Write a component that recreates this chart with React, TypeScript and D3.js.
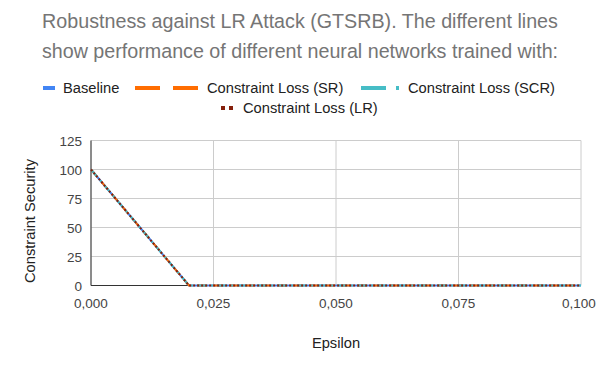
import React from "react";
import * as d3 from "d3";

const epsilon = [0, 0.01, 0.02, 0.03, 0.04, 0.05, 0.06, 0.07, 0.08, 0.09, 0.1];
const baseline = [100, 50, 0, 0, 0, 0, 0, 0, 0, 0, 0];
const lossSR = [100, 50, 0, 0, 0, 0, 0, 0, 0, 0, 0];
const lossSCR = [100, 50, 0, 0, 0, 0, 0, 0, 0, 0, 0];
const lossLR = [100, 50, 0, 0, 0, 0, 0, 0, 0, 0, 0];
const xTicks = [0, 0.025, 0.05, 0.075, 0.1];
const yTicks = [0, 25, 50, 75, 100, 125];
const seriesNames = ["Baseline", "Constraint Loss (SR)", "Constraint Loss (SCR)", "Constraint Loss (LR)"];

const W = 600, H = 371;
const m = { left: 91, right: 581, top: 140.5, bottom: 285.5 };
const FONT = "'Liberation Sans', Arial, sans-serif";

const styles = [
  { color: "#4285F4", dash: "" },
  { color: "#FF6D01", dash: "10,6" },
  { color: "#46BDC6", dash: "10,4,2,4" },
  { color: "#85200C", dash: "2,2" },
];

export default function App() {
  const x = d3.scaleLinear().domain([0, 0.1]).range([m.left, m.right]);
  const y = d3.scaleLinear().domain([0, 125]).range([m.bottom, m.top]);
  const line = d3
    .line<[number, number]>()
    .x((d) => x(d[0]))
    .y((d) => y(d[1]));
  const all = [baseline, lossSR, lossSCR, lossLR];
  const fmt = (v: number) => v.toFixed(3).replace(".", ",");

  return (
    <svg width={W} height={H} style={{ position: "absolute", left: 0, top: 0, background: "#fff", fontFamily: FONT }}>
      <rect width={W} height={H} fill="#fff" />
      <text x={300} y={28} textAnchor="middle" fontSize={19.7} fill="#757575">
        Robustness against LR Attack (GTSRB). The different lines
      </text>
      <text x={300} y={58} textAnchor="middle" fontSize={19.7} fill="#757575">
        show performance of different neural networks trained with:
      </text>

      {/* Legend */}
      <g fontSize={14.7} fill="#222">
        <line x1={43} x2={55} y1={88} y2={88} stroke={styles[0].color} strokeWidth={4} />
        <text x={63} y={93}>{seriesNames[0]}</text>
        <line x1={135} x2={160} y1={88} y2={88} stroke={styles[1].color} strokeWidth={4} />
        <line x1={173} x2={198} y1={88} y2={88} stroke={styles[1].color} strokeWidth={4} />
        <text x={207} y={93}>{seriesNames[1]}</text>
        <line x1={361} x2={386} y1={88} y2={88} stroke={styles[2].color} strokeWidth={4} />
        <line x1={396} x2={399} y1={88} y2={88} stroke={styles[2].color} strokeWidth={4} />
        <text x={408} y={93}>{seriesNames[2]}</text>
        <line x1={221} x2={225} y1={108} y2={108} stroke={styles[3].color} strokeWidth={4} />
        <line x1={229} x2={233} y1={108} y2={108} stroke={styles[3].color} strokeWidth={4} />
        <text x={243} y={113}>{seriesNames[3]}</text>
      </g>

      {/* Gridlines */}
      {yTicks.map((t) => (
        <line key={"gy" + t} x1={m.left} x2={m.right} y1={y(t)} y2={y(t)} stroke="#cccccc" strokeWidth={1} />
      ))}
      {xTicks.map((t) => (
        <line key={"gx" + t} x1={x(t)} x2={x(t)} y1={m.top} y2={m.bottom} stroke="#cccccc" strokeWidth={1} />
      ))}

      {/* Axes */}
      <line x1={m.left} x2={m.left} y1={m.top} y2={m.bottom} stroke="#333" strokeWidth={1} />
      <line x1={m.left} x2={m.right} y1={m.bottom} y2={m.bottom} stroke="#333" strokeWidth={1} />

      {/* Tick labels */}
      {yTicks.map((t) => (
        <text key={"ty" + t} x={82} y={y(t) + 5} textAnchor="end" fontSize={13.5} fill="#444">
          {t}
        </text>
      ))}
      {xTicks.map((t) => (
        <text key={"tx" + t} x={x(t) - (t === 0.1 ? 2 : 0)} y={308} textAnchor="middle" fontSize={13.5} fill="#444">
          {fmt(t)}
        </text>
      ))}

      {/* Axis titles */}
      <text x={336} y={348} textAnchor="middle" fontSize={14.7} fill="#222">
        Epsilon
      </text>
      <text transform="translate(35,221) rotate(-90)" textAnchor="middle" fontSize={14.7} fill="#222">
        Constraint Security
      </text>

      {/* Lines */}
      {all.map((vals, i) => (
        <path
          key={"l" + i}
          d={line(epsilon.map((e, j) => [e, vals[j]] as [number, number])) || ""}
          fill="none"
          stroke={styles[i].color}
          strokeWidth={2}
          strokeDasharray={styles[i].dash}
        />
      ))}
    </svg>
  );
}
